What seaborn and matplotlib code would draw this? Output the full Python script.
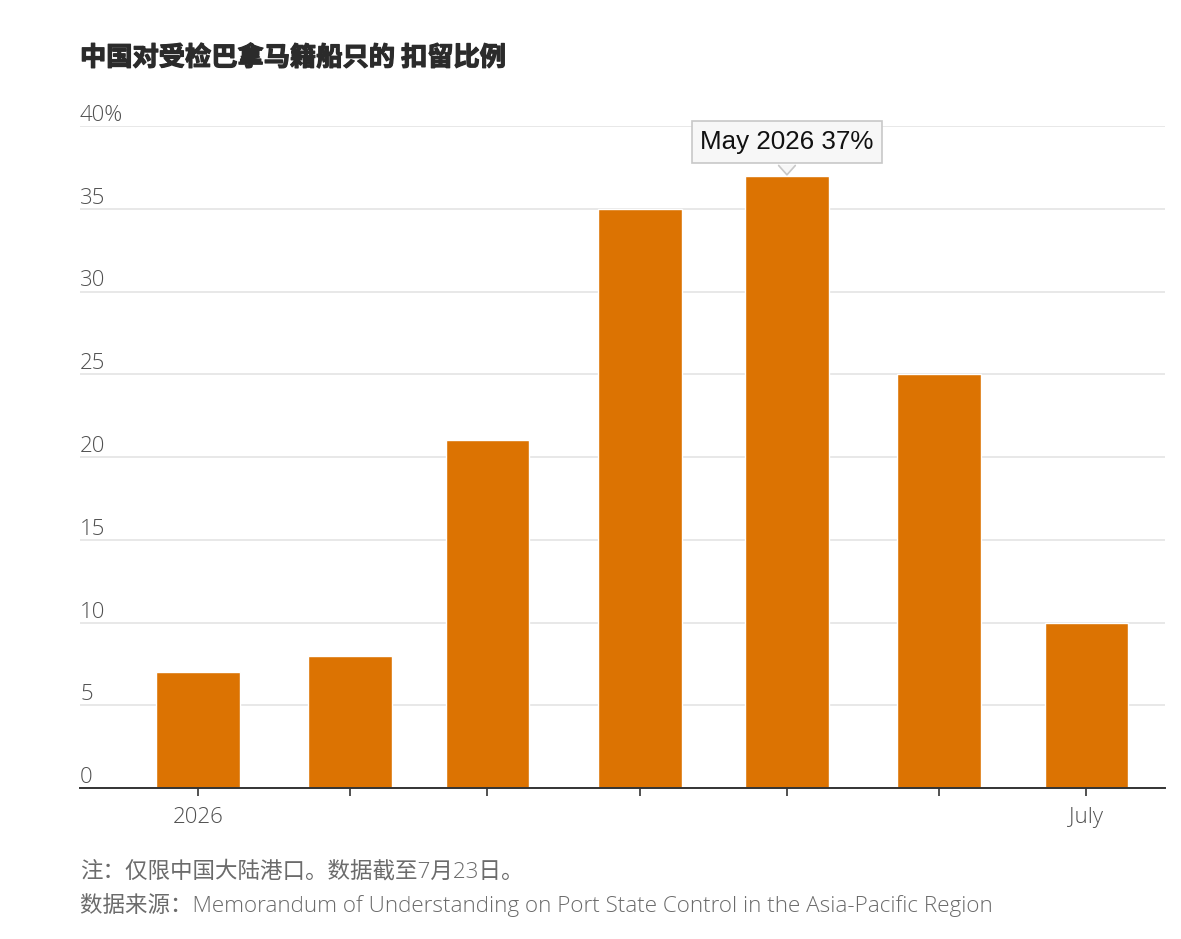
import matplotlib
matplotlib.use("Agg")
import matplotlib.pyplot as plt
import matplotlib.dates as mdates
import matplotlib.transforms as mtransforms
import matplotlib.patheffects as pe
from matplotlib.patches import Polygon
from matplotlib.lines import Line2D
import seaborn as sns
import pandas as pd

# ---- data ----
months = ["2026-01-01", "2026-02-01", "2026-03-01", "2026-04-01",
          "2026-05-01", "2026-06-01", "2026-07-01"]
detention_rate = [7, 8, 21, 35, 37, 25, 10]
y_ticks = [0, 5, 10, 15, 20, 25, 30, 35, 40]
y_tick_labels = ["0", "5", "10", "15", "20", "25", "30", "35", "40%"]
x_tick_labels = ["2026", "", "", "", "", "", "July"]
highlight_index = 4
highlight_label = "May 2026 37%"
title = "中国对受检巴拿马籍船只的 扣留比例"
note = "注：仅限中国大陆港口。数据截至7月23日。"
source = "数据来源：Memorandum of Understanding on Port State Control in the Asia-Pacific Region"

# ---- style ----
sns.set_theme(style="white")
plt.rcParams['font.family'] = ['Noto Sans CJK SC', 'DejaVu Sans']
LIGHT = ['Open Sans', 'Noto Sans CJK SC', 'DejaVu Sans']
BAR = "#DC7302"

W, H = 1181, 939
fig = plt.figure(figsize=(W / 100, H / 100), dpi=100)
fig.patch.set_facecolor("white")
ax = fig.add_axes([80 / W, 1 - 788 / H, (1165 - 80) / W, (788 - 126) / H])

dates = pd.to_datetime(months)
xnum = mdates.date2num(dates)
df = pd.DataFrame({"x": xnum, "rate": detention_rate})

sns.barplot(data=df, x="x", y="rate", native_scale=True, width=0.61,
            color=BAR, saturation=1, errorbar=None, ax=ax, zorder=2)

ax.set_xlim(xnum[0] - 24, xnum[-1] + 16)
ax.set_ylim(0, 40)
ax.set_xlabel("")
ax.set_ylabel("")

# grid
ax.set_yticks(y_ticks)
ax.yaxis.grid(True, color="#e6e6e6", linewidth=1.3)
ax.xaxis.grid(False)
ax.set_axisbelow(True)
for s in ["top", "right", "left"]:
    ax.spines[s].set_visible(False)
ax.spines["bottom"].set_color("#333333")
ax.spines["bottom"].set_linewidth(1.4)
ax.spines["bottom"].set_zorder(3)

# x ticks
ax.set_xticks(xnum)
ax.set_xticklabels(x_tick_labels)
ax.tick_params(axis="x", length=6, width=1.2, color="#333333", pad=8,
               labelsize=16, labelcolor="#505050", bottom=True)
for lab in ax.get_xticklabels():
    lab.set_fontfamily(LIGHT)
    lab.set_fontweight("light")

# y tick labels above gridlines
ax.tick_params(axis="y", length=0, labelleft=False)
ytrans = mtransforms.offset_copy(
    mtransforms.blended_transform_factory(ax.transAxes, ax.transData),
    fig=fig, x=0, y=5, units="dots")
for v, lab in zip(y_ticks, y_tick_labels):
    ax.text(0, v, lab, transform=ytrans, ha="left", va="baseline",
            fontsize=16, color="#505050", family=LIGHT, fontweight="light")

# tooltip
hx = xnum[highlight_index]
hy = detention_rate[highlight_index]
ax.annotate(highlight_label, xy=(hx, hy), xytext=(0, 24.2),
            textcoords="offset points", ha="center", va="center",
            fontsize=18.7, family=["Liberation Sans", "DejaVu Sans"],
            color="#111111", zorder=5,
            bbox=dict(boxstyle="square,pad=0.33", fc="#f7f7f7",
                      ec="#c8c8c8", lw=1.2))

base = ax.transData.transform((hx, hy))
dpi = fig.dpi


def disp(dx, dy):
    return (base[0] + dx * dpi / 72, base[1] + dy * dpi / 72)


verts = [disp(-6.5, 7.9), disp(6.5, 7.9), disp(0, 0.6)]
tri = Polygon(verts, closed=True, transform=None, fc="#f7f7f7",
              ec="none", zorder=6)
fig.patches.append(tri)
edge_pts = [disp(-6.0, 7.3), disp(0, 0.6), disp(6.0, 7.3)]
fig.lines.append(Line2D([p[0] for p in edge_pts], [p[1] for p in edge_pts],
                        transform=None, color="#c8c8c8", lw=1.2, zorder=7))

# title and notes
fig.text(80 / W, 1 - 58 / H, title, ha="left", va="center", fontsize=18.9,
         fontweight="heavy", color="#2b2b2b",
         family=["Noto Sans CJK SC", "DejaVu Sans"],
         path_effects=[pe.withStroke(linewidth=0.9, foreground="#2b2b2b")])
fig.text(80 / W, 1 - 872 / H, note, ha="left", va="center", fontsize=16.2,
         color="#6b6b6b", family=LIGHT, fontweight="light")
fig.text(80 / W, 1 - 905 / H, source, ha="left", va="center", fontsize=16.2,
         color="#6b6b6b", family=LIGHT, fontweight="light")

fig.savefig("out.png", dpi=100, facecolor="white")
